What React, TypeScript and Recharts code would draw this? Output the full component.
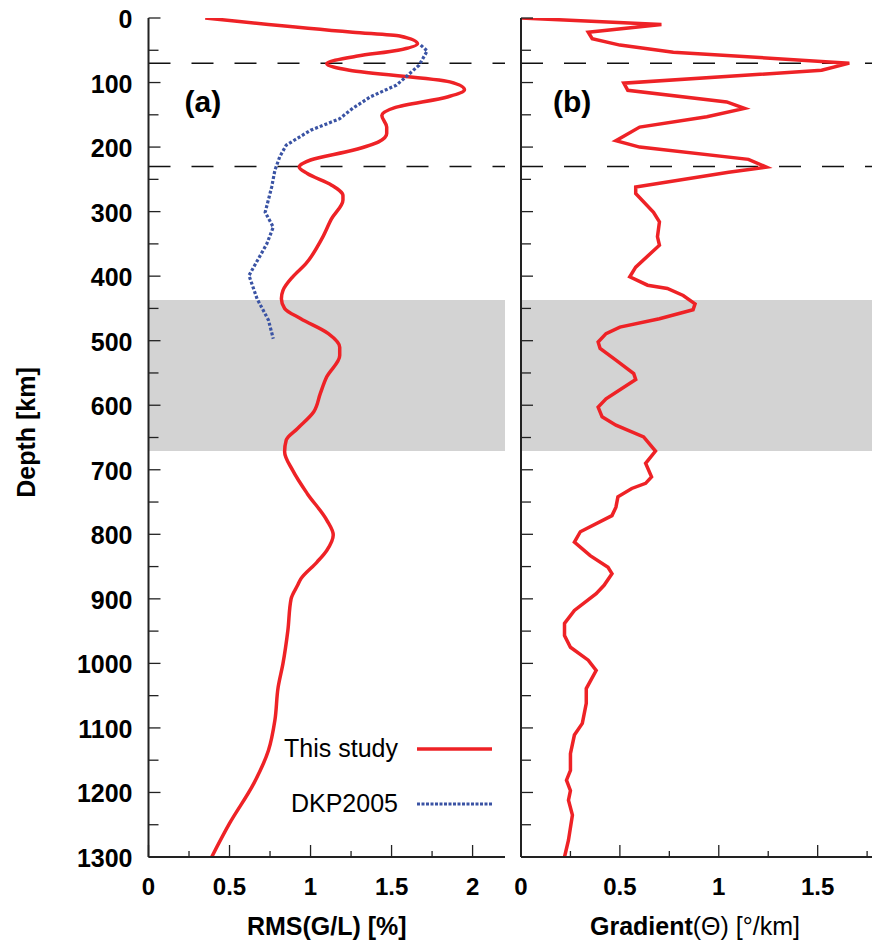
import { LineChart, Line, XAxis, YAxis, ReferenceArea, ReferenceLine, Legend } from 'recharts'

// depth profiles
const studyDepth = [0, 22, 28, 40, 50, 59, 71, 81, 99, 111, 122, 139, 151, 169, 179, 192, 205, 220, 231, 241, 259, 275, 282, 311, 342, 381, 401, 422, 435, 450, 466, 489, 510, 523, 556, 582, 610, 636, 654, 672, 701, 737, 778, 801, 825, 843, 869, 879, 900, 949, 1000, 1037, 1088, 1135, 1186, 1248, 1300]
const studyRms = [0.35, 1.26, 1.55, 1.66, 1.54, 1.29, 1.1, 1.24, 1.86, 1.95, 1.85, 1.52, 1.44, 1.47, 1.47, 1.42, 1.26, 1.0, 0.93, 0.98, 1.13, 1.2, 1.2, 1.13, 1.07, 0.97, 0.89, 0.83, 0.82, 0.84, 0.94, 1.11, 1.18, 1.18, 1.1, 1.06, 1.02, 0.92, 0.85, 0.84, 0.89, 0.98, 1.1, 1.14, 1.1, 1.04, 0.94, 0.92, 0.88, 0.86, 0.83, 0.8, 0.78, 0.74, 0.65, 0.5, 0.39]

const dkpDepth = [42, 51, 73, 91, 104, 122, 140, 156, 174, 197, 215, 236, 262, 301, 324, 350, 399, 435, 468, 497]
const dkpRms = [1.68, 1.72, 1.67, 1.59, 1.53, 1.37, 1.26, 1.18, 1.0, 0.85, 0.81, 0.78, 0.76, 0.72, 0.77, 0.73, 0.62, 0.67, 0.74, 0.77]

const gradDepth = [0, 10, 22, 32, 42, 53, 70, 81, 101, 112, 130, 140, 153, 169, 190, 200, 219, 231, 239, 262, 272, 301, 316, 339, 352, 386, 401, 414, 419, 430, 443, 452, 466, 479, 489, 502, 512, 530, 551, 560, 590, 603, 618, 631, 649, 671, 690, 711, 721, 729, 742, 758, 771, 796, 812, 833, 851, 861, 879, 892, 918, 938, 957, 975, 995, 1011, 1039, 1062, 1093, 1111, 1140, 1166, 1181, 1197, 1212, 1235, 1274, 1300]
const gradValue = [0, 0.71, 0.34, 0.36, 0.5, 0.77, 1.66, 1.52, 0.52, 0.54, 1.04, 1.13, 0.94, 0.6, 0.48, 0.6, 1.15, 1.24, 1.05, 0.58, 0.58, 0.67, 0.7, 0.69, 0.7, 0.58, 0.55, 0.64, 0.74, 0.82, 0.88, 0.87, 0.7, 0.5, 0.43, 0.39, 0.4, 0.48, 0.57, 0.58, 0.43, 0.39, 0.41, 0.48, 0.62, 0.68, 0.63, 0.66, 0.63, 0.56, 0.49, 0.48, 0.46, 0.3, 0.27, 0.35, 0.44, 0.46, 0.42, 0.38, 0.27, 0.22, 0.22, 0.25, 0.34, 0.38, 0.33, 0.33, 0.31, 0.27, 0.25, 0.25, 0.23, 0.25, 0.24, 0.26, 0.24, 0.22]

const depthTicks = [0, 50, 100, 150, 200, 250, 300, 350, 400, 450, 500, 550, 600, 650, 700, 750, 800, 850, 900, 950, 1000, 1050, 1100, 1150, 1200, 1250, 1300]
const rmsTicks = [0, 0.25, 0.5, 0.75, 1, 1.25, 1.5, 1.75, 2]
const gradTicks = [0, 0.25, 0.5, 0.75, 1, 1.25, 1.5, 1.75]

const dashedDepths = [70, 230]
const transitionZone = [437, 671]
const legendOrder = ['This study', 'DKP2005']

const RED = '#ee2226'
const BLUE = '#3a53a4'
const FONT = '"Liberation Sans", Arial, Helvetica, sans-serif'
const SPINE = { stroke: '#222', strokeWidth: 2 }

const studyRows = studyDepth.map((depth, i) => ({ depth, value: studyRms[i] }))
const dkpRows = dkpDepth.map((depth, i) => ({ depth, value: dkpRms[i] }))
const gradRows = gradDepth.map((depth, i) => ({ depth, value: gradValue[i] }))

const isMajor = (v: number, step: number) => Math.abs(v / step - Math.round(v / step)) < 1e-6

const bottomTick = (p: any) => {
  const { x, y, payload } = p
  const major = isMajor(payload.value, 0.5)
  return (
    <g>
      <line x1={x} x2={x} y1={y} y2={y - (major ? 12 : 6)} stroke="#222" strokeWidth={1.3} />
      {major && (
        <text x={x} y={y + 29} textAnchor="middle" dominantBaseline="central" fontFamily={FONT} fontWeight="bold" fontSize={24} fill="#000">
          {String(payload.value)}
        </text>
      )}
    </g>
  )
}

const topTick = (p: any) => {
  const { x, y, payload } = p
  const major = isMajor(payload.value, 0.5)
  return <line x1={x} x2={x} y1={y} y2={y + (major ? 12 : 6)} stroke="#222" strokeWidth={1.3} />
}

const leftTick = (withLabel: boolean) => (p: any) => {
  const { x, y, payload } = p
  const major = isMajor(payload.value, 100)
  return (
    <g>
      <line x1={x} x2={x + (major ? 12 : 10)} y1={y} y2={y} stroke="#222" strokeWidth={1.3} />
      {withLabel && major && (
        <text x={x - 16} y={y + 1} textAnchor="end" dominantBaseline="central" fontFamily={FONT} fontWeight="bold" fontSize={25} fill="#000">
          {String(payload.value)}
        </text>
      )}
    </g>
  )
}

const rightTick = (p: any) => {
  const { x, y, payload } = p
  const major = isMajor(payload.value, 100)
  return <line x1={x} x2={x - (major ? 12 : 10)} y1={y} y2={y} stroke="#222" strokeWidth={1.3} />
}

const rmsTitle = (p: any) => {
  const vb = p.viewBox
  return (
    <text x={vb.x + vb.width / 2} y={vb.y + 69} textAnchor="middle" dominantBaseline="central" fontFamily={FONT} fontWeight="bold" fontSize={25} fill="#000">
      RMS(G/L) [%]
    </text>
  )
}

const gradTitle = (p: any) => {
  const vb = p.viewBox
  return (
    <text x={vb.x + 174} y={vb.y + 69} textAnchor="middle" dominantBaseline="central" fontFamily={FONT} fontSize={25} fill="#000">
      <tspan fontWeight="bold">Gradient</tspan>
      <tspan>(Θ) [°/km]</tspan>
    </text>
  )
}

const panelText = (label: string, x: number) => (
  <text x={x} y={101} dominantBaseline="central" fontFamily={FONT} fontWeight="bold" fontSize={30} fill="#000">
    {label}
  </text>
)

// left axis label: depth title plus the panel letter
const leftLabel = (label: string, dx: number, withTitle: boolean) => (p: any) => {
  const vb = p.viewBox
  const cx = 26
  const cy = vb.y + vb.height / 2 - 5
  return (
    <g>
      {withTitle && (
        <text x={cx} y={cy} transform={`rotate(-90 ${cx} ${cy})`} textAnchor="middle" dominantBaseline="central" fontFamily={FONT} fontWeight="bold" fontSize={25} fill="#000">
          Depth [km]
        </text>
      )}
      {panelText(label, vb.x + vb.width + dx)}
    </g>
  )
}

const legendContent = (p: any) => {
  const items = [...(p.payload || [])].sort((a: any, b: any) => legendOrder.indexOf(a.value) - legendOrder.indexOf(b.value))
  return (
    <div style={{ fontFamily: FONT, fontSize: 25, color: '#000' }}>
      {items.map((entry: any) => (
        <div key={entry.value} style={{ display: 'flex', alignItems: 'center', height: 55 }}>
          <span style={{ width: 128, textAlign: 'right', whiteSpace: 'nowrap' }}>{entry.value}</span>
          <svg width={94} height={10}>
            <line
              x1={19}
              x2={94}
              y1={5}
              y2={5}
              stroke={entry.color}
              strokeWidth={entry.value === 'DKP2005' ? 3.2 : 3.5}
              strokeDasharray={entry.value === 'DKP2005' ? '3 1.5' : undefined}
            />
          </svg>
        </div>
      ))}
    </div>
  )
}

export default function App() {
  return (
    <div style={{ position: 'absolute', left: 0, top: 0, width: 872, height: 945, overflow: 'hidden', background: '#fff' }}>
      <div style={{ position: 'absolute', left: 0, top: 0 }}>
        <LineChart width={515} height={945} layout="vertical" margin={{ top: 18, right: 10, bottom: 0, left: 0 }}>
          <ReferenceArea y1={transitionZone[0]} y2={transitionZone[1]} fill="#d3d3d3" fillOpacity={1} stroke="none" />
          {dashedDepths.map(d => (
            <ReferenceLine key={d} y={d} stroke="#111" strokeWidth={1.6} strokeDasharray="22 21" />
          ))}
          <XAxis type="number" domain={[0, 2.2]} ticks={rmsTicks} interval={0} tickSize={0} tickMargin={0} tick={bottomTick} height={88} axisLine={SPINE} allowDataOverflow label={rmsTitle} />
          <XAxis xAxisId="top" orientation="top" type="number" domain={[0, 2.2]} ticks={rmsTicks} interval={0} tickSize={0} tickMargin={0} tick={topTick} height={0} axisLine={SPINE} allowDataOverflow />
          <YAxis type="number" dataKey="depth" domain={[0, 1300]} ticks={depthTicks} interval={0} width={148.5} tickSize={0} tickMargin={0} tick={leftTick(true)} axisLine={SPINE} allowDataOverflow label={leftLabel('(a)', 36, true)} />
          <YAxis yAxisId="right" orientation="right" type="number" domain={[0, 1300]} ticks={depthTicks} interval={0} width={0} tickSize={0} tickMargin={0} tick={rightTick} axisLine={SPINE} allowDataOverflow />
          <Line data={studyRows} dataKey="value" name="This study" type="monotoneY" stroke={RED} strokeWidth={3.5} dot={false} activeDot={false} isAnimationActive={false} />
          <Line data={dkpRows} dataKey="value" name="DKP2005" type="linear" stroke={BLUE} strokeWidth={3.2} strokeDasharray="3 2" dot={false} activeDot={false} isAnimationActive={false} />
          <Legend layout="vertical" align="center" verticalAlign="middle" content={legendContent} wrapperStyle={{ position: 'absolute', left: 270, top: 721, width: 240 }} />
        </LineChart>
      </div>
      <div style={{ position: 'absolute', left: 511, top: 0 }}>
        <LineChart width={366} height={945} layout="vertical" margin={{ top: 18, right: 0, bottom: 0, left: 0 }}>
          <ReferenceArea y1={transitionZone[0]} y2={transitionZone[1]} fill="#d3d3d3" fillOpacity={1} stroke="none" />
          {dashedDepths.map(d => (
            <ReferenceLine key={d} y={d} stroke="#111" strokeWidth={1.6} strokeDasharray="22 21" />
          ))}
          <XAxis type="number" domain={[0, 1.8]} ticks={gradTicks} interval={0} tickSize={0} tickMargin={0} tick={bottomTick} height={88} axisLine={SPINE} allowDataOverflow label={gradTitle} />
          <XAxis xAxisId="top" orientation="top" type="number" domain={[0, 1.8]} ticks={gradTicks} interval={0} tickSize={0} tickMargin={0} tick={topTick} height={0} axisLine={SPINE} allowDataOverflow />
          <YAxis type="number" dataKey="depth" domain={[0, 1300]} ticks={depthTicks} interval={0} width={10} tickSize={0} tickMargin={0} tick={leftTick(false)} axisLine={SPINE} allowDataOverflow label={leftLabel('(b)', 32, false)} />
          <YAxis yAxisId="right" orientation="right" type="number" domain={[0, 1300]} ticks={depthTicks} interval={0} width={0} tickSize={0} tickMargin={0} tick={rightTick} axisLine={SPINE} allowDataOverflow />
          <Line data={gradRows} dataKey="value" name="Gradient" type="linear" stroke={RED} strokeWidth={3.5} dot={false} activeDot={false} isAnimationActive={false} />
        </LineChart>
      </div>
    </div>
  )
}
